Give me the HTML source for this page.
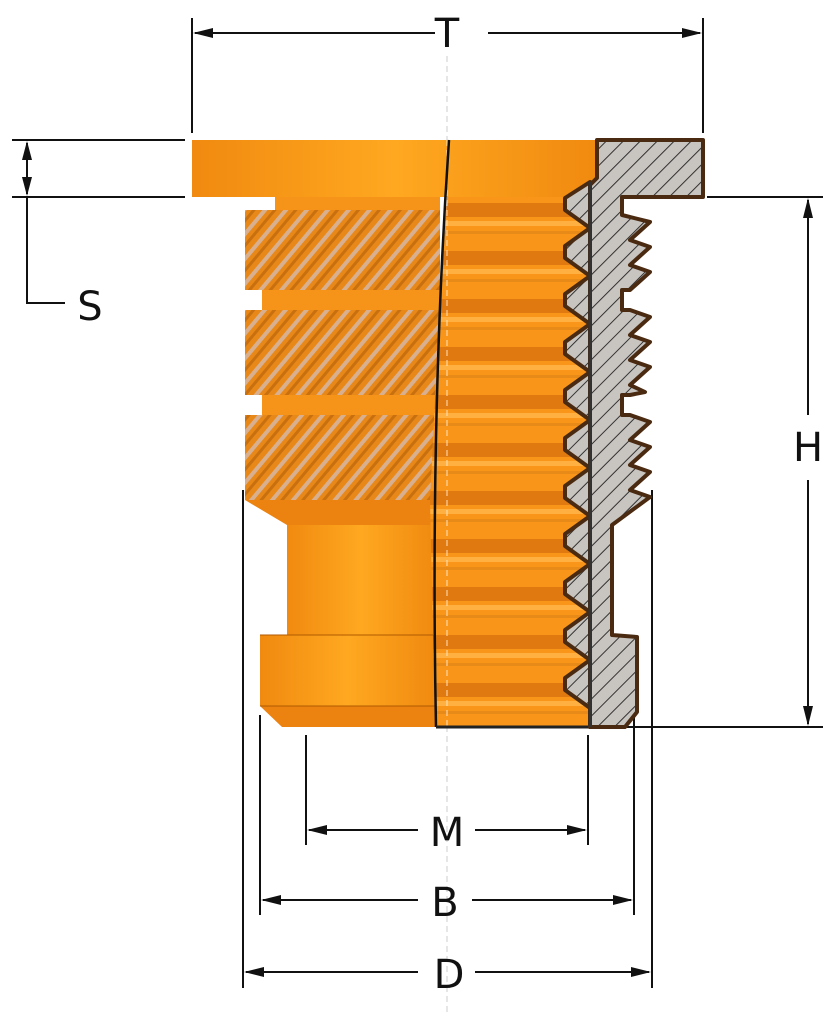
<!DOCTYPE html>
<html><head><meta charset="utf-8"><style>
html,body{margin:0;padding:0;background:#fff;}
svg{display:block;}
text{font-family:"DejaVu Sans","Liberation Sans",sans-serif;font-size:40px;fill:#111;}
</style></head><body>
<svg width="835" height="1024" viewBox="0 0 835 1024" xmlns="http://www.w3.org/2000/svg">
<defs>
<linearGradient id="og" x1="0" x2="1" y1="0" y2="0">
<stop offset="0" stop-color="#f08a10"/><stop offset="0.5" stop-color="#ffa820"/><stop offset="1" stop-color="#f08a10"/>
</linearGradient>
<pattern id="hatch" width="12" height="12" patternUnits="userSpaceOnUse" patternTransform="rotate(45)">
<rect width="12" height="12" fill="#c8c4c0"/><line x1="0" y1="0" x2="0" y2="12" stroke="#333" stroke-width="2"/>
</pattern>
<pattern id="knurl" width="16" height="16" patternUnits="userSpaceOnUse" patternTransform="rotate(40)">
<rect width="16" height="16" fill="#e88818"/><rect x="0" width="4" height="16" fill="#d8b090"/><rect x="8" width="3" height="16" fill="#c87010"/>
</pattern>
<pattern id="thr" width="50" height="48" patternUnits="userSpaceOnUse" y="197">
<rect width="50" height="48" fill="#f9961a"/>
<rect y="6" width="50" height="14" fill="#e07a10"/>
<rect y="24" width="50" height="5" fill="#ffb040"/>
<rect y="34" width="50" height="3" fill="#e88a18"/>
</pattern>
</defs>

<g stroke="#111" stroke-width="2" fill="none">
<line x1="192" y1="18" x2="192" y2="133"/>
<line x1="703" y1="18" x2="703" y2="133"/>
<line x1="195" y1="33" x2="435" y2="33"/>
<line x1="488" y1="33" x2="700" y2="33"/>
<line x1="12" y1="140" x2="185" y2="140"/>
<line x1="12" y1="197" x2="185" y2="197"/>
<line x1="27" y1="143" x2="27" y2="194"/>
<polyline points="27,197 27,303 65,303"/>
<line x1="707" y1="197" x2="823" y2="197"/>
<line x1="625" y1="727" x2="823" y2="727"/>
<line x1="808" y1="200" x2="808" y2="415"/>
<line x1="808" y1="480" x2="808" y2="724"/>
<line x1="306" y1="735" x2="306" y2="845"/>
<line x1="588" y1="735" x2="588" y2="845"/>
<line x1="260" y1="715" x2="260" y2="915"/>
<line x1="634" y1="715" x2="634" y2="915"/>
<line x1="243" y1="490" x2="243" y2="988"/>
<line x1="652" y1="490" x2="652" y2="988"/>
<line x1="309" y1="830" x2="418" y2="830"/><line x1="475" y1="830" x2="585" y2="830"/>
<line x1="263" y1="900" x2="418" y2="900"/><line x1="472" y1="900" x2="631" y2="900"/>
<line x1="246" y1="972" x2="418" y2="972"/><line x1="475" y1="972" x2="649" y2="972"/>
</g>
<g fill="#111">
<polygon points="193,33 213,28 213,38"/><polygon points="702,33 682,28 682,38"/>
<polygon points="27,141 22,160 32,160"/><polygon points="27,196 22,177 32,177"/>
<polygon points="808,198 803,218 813,218"/><polygon points="808,726 803,706 813,706"/>
<polygon points="307,830 327,825 327,835"/><polygon points="587,830 567,825 567,835"/>
<polygon points="261,900 281,895 281,905"/><polygon points="633,900 613,895 613,905"/>
<polygon points="244,972 264,967 264,977"/><polygon points="651,972 631,967 631,977"/>
</g>
<line x1="447" y1="56" x2="447" y2="1015" stroke="#ccc" stroke-width="1" stroke-dasharray="6,4"/>
<text x="447" y="47" text-anchor="middle">T</text>
<text x="90" y="320" text-anchor="middle">S</text>
<text x="808" y="461" text-anchor="middle">H</text>
<text x="447" y="846" text-anchor="middle">M</text>
<text x="445" y="916" text-anchor="middle">B</text>
<text x="449" y="988" text-anchor="middle">D</text>

<rect x="192" y="140" width="405" height="57" fill="url(#og)"/>
<rect x="275" y="197" width="165" height="13" fill="#f59418"/>
<rect x="245" y="210" width="195" height="80" fill="url(#knurl)"/>
<rect x="262" y="290" width="178" height="20" fill="#f59418"/>
<rect x="245" y="310" width="195" height="85" fill="url(#knurl)"/>
<rect x="262" y="395" width="178" height="20" fill="#f59418"/>
<rect x="245" y="415" width="195" height="85" fill="url(#knurl)"/>
<polygon points="245,500 435,500 435,525 287,525" fill="#ec8210"/>
<rect x="287" y="525" width="148" height="110" fill="url(#og)"/>
<rect x="260" y="635" width="175" height="71" fill="url(#og)"/>
<polygon points="260,706 435,706 435,727 282,727" fill="#ec8210"/>
<line x1="260" y1="635" x2="435" y2="635" stroke="#b05a00" stroke-width="1"/>
<line x1="260" y1="706" x2="435" y2="706" stroke="#b05a00" stroke-width="1"/>
<polygon points="447,197 590,197 590,727 435,727 430,500 440,300" fill="url(#thr)"/>
<line x1="447" y1="140" x2="447" y2="727" stroke="#fbe3c0" stroke-width="1" stroke-dasharray="6,4"/>
<path d="M449,140 Q430,420 436,727" stroke="#111" stroke-width="2.5" fill="none"/>
<line x1="436" y1="727" x2="590" y2="727" stroke="#222" stroke-width="3"/>

<polygon fill="url(#hatch)" stroke="#4a2a10" stroke-width="4" stroke-linejoin="round" points="
597,140 703,140 703,197 622,197 622,215 650,222 630,240 650,247 630,265 650,272 630,290 622,290 622,310 630,310 650,317 630,335 650,342 630,360 650,367 630,385 645,392 630,395 622,395 622,415 630,415 650,422 630,440 650,447 630,465 650,472 630,490 650,497 612,525 612,635 637,637 637,712 625,727 590,727 590,185 597,178"/>
<polygon fill="url(#hatch)" stroke="#4a2a10" stroke-width="4" stroke-linejoin="round" points="
590,182 565,198 565,210 590,228
565,246 565,258 590,276
565,294 565,306 590,324
565,342 565,354 590,372
565,390 565,402 590,420
565,438 565,450 590,468
565,486 565,498 590,516
565,534 565,546 590,564
565,582 565,594 590,612
565,630 565,642 590,660
565,678 565,690 590,708 590,727"/>
<line x1="590" y1="182" x2="590" y2="727" stroke="#333" stroke-width="3"/>
</svg>
</body></html>
